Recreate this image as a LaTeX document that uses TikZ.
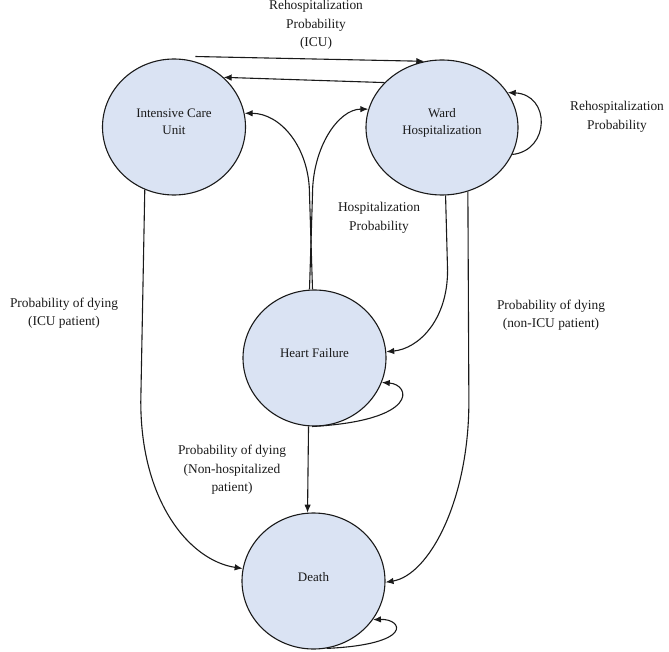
\documentclass[tikz,border=0pt]{standalone}
\usepackage{fontspec}
\setmainfont{Liberation Serif}
\usetikzlibrary{arrows.meta,shapes.geometric}
\definecolor{statefill}{HTML}{DAE3F3}
\definecolor{ink}{HTML}{1A1A1A}
\begin{document}
\begin{tikzpicture}[x=1pt,y=-1pt,
  state/.style={ellipse, draw=ink, fill=statefill, line width=1.1pt,
    minimum width=143pt, minimum height=136pt, inner sep=0pt},
  nodetext/.style={font=\fontsize{13}{17}\selectfont, align=center, text=ink},
  lbl/.style={font=\fontsize{13.4}{18.5}\selectfont, align=center, text=ink},
  conn/.style={draw=ink, line width=1.1pt, -{Latex[length=8pt,width=6.5pt]}}]
\useasboundingbox (0,0) rectangle (669,652);

\node[state, label={[nodetext,yshift=5pt]center:Intensive Care\\Unit}] (icu) at (174,127) {};
\node[state, minimum width=152pt, minimum height=135pt,
  label={[nodetext,yshift=5pt]center:Ward\\Hospitalization}] (ward) at (442,127.5) {};
\node[state, label={[nodetext,yshift=5pt]center:Heart Failure}] (hf) at (314.5,358) {};
\node[state, label={[nodetext,yshift=4pt]center:Death}] (death) at (313.5,581) {};

\draw[conn] ([yshift=5pt]icu.72) -- (ward.105);
\draw[conn] (ward.142) -- (icu.45);
\draw[conn] ([xshift=-2pt]hf.north) -- ++(-3,-95) .. controls +(0,-47) and +(36,0) .. (icu.11);
\draw[conn] ([xshift=-5pt]hf.north) -- ++(3,-95) .. controls +(0,-47) and +(-30,0) .. (ward.166);
\draw[conn] (ward.-21) .. controls +(38,-4) and +(43,2) .. (ward.28);
\draw[conn] (ward.-87) -- ++(2,75) .. controls +(0,50) and +(32,-3) .. (hf.5);
\draw[conn] (ward.-68) -- ++(1,210) .. controls +(0,100) and +(43,-7) .. (death.-1);
\draw[conn] (icu.245) -- ++(-4,212) .. controls +(0,100) and +(-53,-8) .. (death.170);
\draw[conn] (hf.265) -- (death.95);
\draw[conn] (hf.268) .. controls +(108,-6) and +(29,2) .. (hf.-20);
\draw[conn] (death.-79) .. controls +(88,-4) and +(30,-1) .. (death.-33);

\node[lbl] (lrehicu) at (316,25) {Rehospitalization\\Probability\\(ICU)};
\node[lbl] (lreh) at (617,117) {Rehospitalization\\Probability};
\node[lbl] (lhosp) at (379,218) {Hospitalization\\Probability};
\node[lbl] (licu) at (64,313) {Probability of dying\\(ICU patient)};
\node[lbl] (lnonicu) at (551,315) {Probability of dying\\(non-ICU patient)};
\node[lbl] (lnonhosp) at (232,470) {Probability of dying\\(Non-hospitalized\\patient)};
\end{tikzpicture}
\end{document}
